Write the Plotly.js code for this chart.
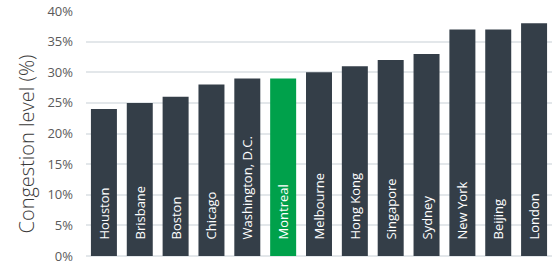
<!DOCTYPE html>
<html>
<head>
<meta charset="utf-8">
<script src="https://cdn.plot.ly/plotly-3.0.1.min.js"></script>
<style>html,body{margin:0;padding:0;background:#fff;}#chart{width:557px;height:263px;}</style>
</head>
<body>
<div id="chart"></div>
<script>
var cities = ["Houston","Brisbane","Boston","Chicago","Washington, D.C.","Montreal","Melbourne","Hong Kong","Singapore","Sydney","New York","Beijing","London"];
var congestion = [24,25,26,28,29,29,30,31,32,33,37,37,38];
var highlight = "Montreal";
var tickValues = [0,5,10,15,20,25,30,35,40];
var tickLabels = ["0%","5%","10%","15%","20%","25%","30%","35%","40%"];
var yTitle = "Congestion level (%)";

var pad = "\u00a0\u00a0\u00a0\u00a0";
var colors = cities.map(function(c){ return c === highlight ? "#00a14b" : "#343e48"; });

var trace = {
  type: "bar",
  x: cities,
  y: congestion,
  text: cities.map(function(c){ return pad + c; }),
  textposition: "inside",
  insidetextanchor: "start",
  textangle: -90,
  textfont: {family: "Open Sans", size: 13, color: "#ffffff"},
  marker: {color: colors},
  hoverinfo: "none"
};

var layout = {
  width: 557, height: 263,
  margin: {l: 86, r: 5, t: 11, b: 7},
  paper_bgcolor: "#ffffff",
  plot_bgcolor: "#ffffff",
  bargap: 0.275,
  showlegend: false,
  font: {family: "Open Sans", color: "#555"},
  xaxis: {showticklabels: false, showgrid: false, zeroline: false, showline: false, ticks: ""},
  yaxis: {
    range: [0, 40],
    tickvals: tickValues,
    ticktext: tickLabels,
    tickfont: {family: "Open Sans", size: 13, color: "#5a5a5a"},
    ticklabeloverflow: "allow",
    showgrid: true,
    gridcolor: "#e3e7ea",
    gridwidth: 2,
    zeroline: true,
    zerolinecolor: "#e3e7ea",
    zerolinewidth: 2,
    showline: false,
    ticks: "",
    ticklabelstandoff: 12
  },
  annotations: [{
    text: yTitle,
    xref: "paper", yref: "paper",
    x: 0, y: 0.5,
    xanchor: "center", yanchor: "middle",
    xshift: -60, yshift: -11,
    textangle: -90,
    showarrow: false,
    font: {family: "Open Sans", size: 20, weight: 300, color: "#3a3a3a"}
  }]
};

Plotly.newPlot("chart", [trace], layout, {displayModeBar: false, staticPlot: true});
</script>
</body>
</html>
